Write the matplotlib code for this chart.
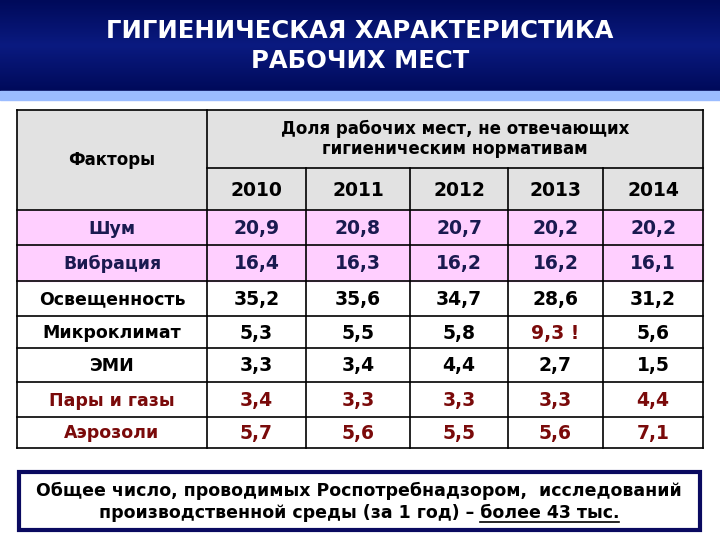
import matplotlib
matplotlib.use("Agg")
import matplotlib.pyplot as plt
from matplotlib.patches import Rectangle
from matplotlib.colors import LinearSegmentedColormap
import numpy as np

title = "ГИГИЕНИЧЕСКАЯ ХАРАКТЕРИСТИКА\nРАБОЧИХ МЕСТ"
header_factor = "Факторы"
header_share = "Доля рабочих мест, не отвечающих\nгигиеническим нормативам"
years = ["2010", "2011", "2012", "2013", "2014"]
factors = ["Шум", "Вибрация", "Освещенность", "Микроклимат", "ЭМИ", "Пары и газы", "Аэрозоли"]
values = [
    ["20,9", "20,8", "20,7", "20,2", "20,2"],
    ["16,4", "16,3", "16,2", "16,2", "16,1"],
    ["35,2", "35,6", "34,7", "28,6", "31,2"],
    ["5,3", "5,5", "5,8", "9,3 !", "5,6"],
    ["3,3", "3,4", "4,4", "2,7", "1,5"],
    ["3,4", "3,3", "3,3", "3,3", "4,4"],
    ["5,7", "5,6", "5,5", "5,6", "7,1"],
]
note_line1 = "Общее число, проводимых Роспотребнадзором,  исследований"
note_line2a = "производственной среды (за 1 год) – "
note_line2b = "более 43 тыс."

fig = plt.figure(figsize=(7.2, 5.4), dpi=100)
ax = fig.add_axes([0, 0, 1, 1])
ax.set_xlim(0, 720); ax.set_ylim(540, 0); ax.axis("off")

grad = np.linspace(0, 1, 100).reshape(-1, 1)
cm = LinearSegmentedColormap.from_list("n", ["#000a5a", "#0a1a80", "#000a5a"])
ax.imshow(grad, extent=(0, 720, 91, 0), cmap=cm, aspect="auto", zorder=0)
ax.add_patch(Rectangle((0, 91), 720, 9, color="#9bbcff", zorder=1))
ax.text(360, 46, title, color="white", fontsize=17.5, fontweight="bold", ha="center", va="center",
        linespacing=1.3, zorder=2)

xs = [17, 207, 306, 410, 508, 603, 703]
ys = [110, 168, 210, 245, 281, 316, 348, 382, 417, 448]
lw = 1.2
navy = "#1a1a50"; dred = "#7a0a0a"

ax.add_patch(Rectangle((xs[0], ys[0]), xs[-1]-xs[0], ys[2]-ys[0], color="#e2e2e2", zorder=1))
ax.add_patch(Rectangle((xs[0], ys[2]), xs[-1]-xs[0], ys[4]-ys[2], color="#ffcfff", zorder=1))

for y in [ys[0]] + ys[2:]:
    ax.plot([xs[0], xs[-1]], [y, y], color="black", lw=lw, zorder=3)
ax.plot([xs[1], xs[-1]], [ys[1], ys[1]], color="black", lw=lw, zorder=3)
for i, x in enumerate(xs):
    top = ys[1] if 1 < i < len(xs)-1 else ys[0]
    ax.plot([x, x], [top, ys[-1]], color="black", lw=lw, zorder=3)

ax.text((xs[0]+xs[1])/2, (ys[0]+ys[2])/2, header_factor, fontsize=12, fontweight="bold",
        ha="center", va="center", zorder=4)
ax.text((xs[1]+xs[-1])/2, (ys[0]+ys[1])/2, header_share, fontsize=12, fontweight="bold",
        ha="center", va="center", linespacing=1.1, zorder=4)
for j, yr in enumerate(years):
    ax.text((xs[j+1]+xs[j+2])/2, (ys[1]+ys[2])/2 + 1, yr, fontsize=13.5, fontweight="bold",
            ha="center", va="center", zorder=4)

for i, f in enumerate(factors):
    yc = (ys[i+2]+ys[i+3])/2 + 1
    col = navy if i < 2 else ("black" if i < 5 else dred)
    ax.text((xs[0]+xs[1])/2, yc, f, fontsize=12.5, fontweight="bold", ha="center", va="center",
            color=col, zorder=4)
    for j, v in enumerate(values[i]):
        c = dred if v.endswith("!") else col
        ax.text((xs[j+1]+xs[j+2])/2, yc, v, fontsize=13.5, fontweight="bold", ha="center",
                va="center", color=c, zorder=4)

ax.add_patch(Rectangle((19, 472), 681, 58, fill=False, edgecolor="#0a0a60", lw=3, zorder=3))
ax.text(359, 491, note_line1, fontsize=12.5, fontweight="bold", ha="center", va="center", zorder=4)
t = ax.text(359, 513, note_line2a + note_line2b, fontsize=12.5, fontweight="bold", ha="center",
            va="center", zorder=4)
fig.canvas.draw()
bb = t.get_window_extent()
ta = ax.text(0, 0, note_line2b, fontsize=12.5, fontweight="bold")
w2 = ta.get_window_extent().width
ta.remove()
ax.plot([bb.x1 - w2, bb.x1], [522, 522], color="black", lw=1.2, zorder=4)

fig.savefig("out.png", dpi=100)
